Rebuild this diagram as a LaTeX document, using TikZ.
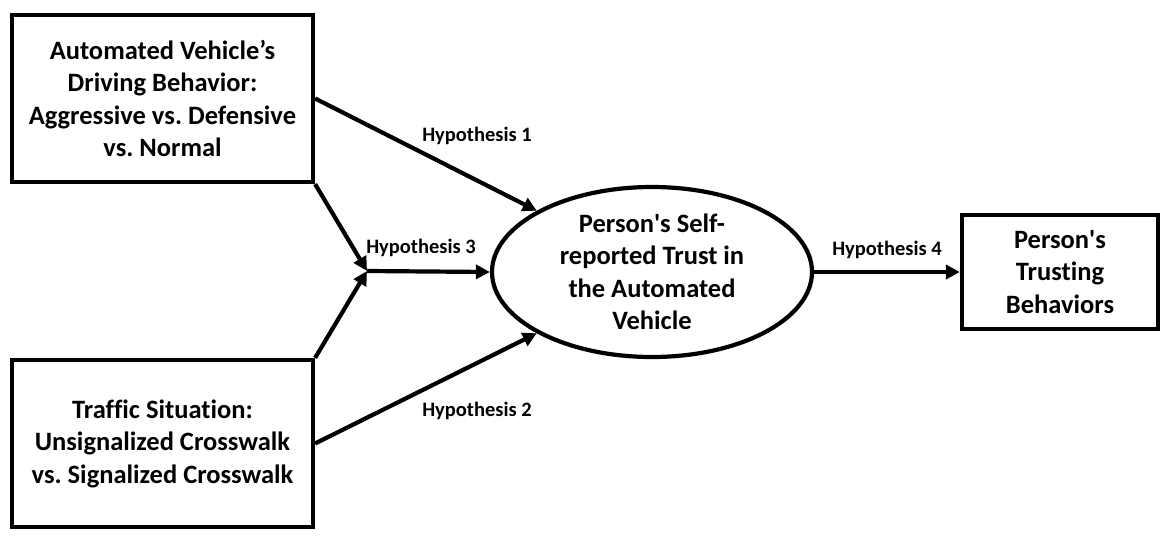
\documentclass[tikz,border=0pt]{standalone}
\usepackage{fontspec}
\setmainfont{Carlito}[Ligatures={NoCommon}]
\usetikzlibrary{arrows.meta,shapes.geometric}
\frenchspacing
\tikzset{
  box/.style={draw, line width=4.2pt, rectangle, inner sep=0pt, align=center,
    font=\fontsize{26.5}{32.5}\selectfont\bfseries},
  oval/.style={draw, line width=4.2pt, ellipse, inner sep=0pt, align=center,
    font=\fontsize{26.5}{32.5}\selectfont\bfseries},
  conn/.style={line width=4.2pt, -{Triangle[length=14pt,width=14pt]}},
  lbl/.style={font=\fontsize{20.5}{24}\selectfont\bfseries, inner sep=0pt}
}
\begin{document}
\begin{tikzpicture}[x=1pt,y=-1pt]
\useasboundingbox (0,0) rectangle (1173,544);
\node[box, minimum width=301pt, minimum height=167pt] (av) at (162.5,98.5)
  {Automated Vehicle’s\\Driving Behavior:\\Aggressive vs. Defensive\\vs. Normal};
\node[box, minimum width=301pt, minimum height=167pt] (ts) at (162.5,443.5)
  {Traffic Situation:\\Unsignalized Crosswalk\\vs. Signalized Crosswalk};
\node[oval, minimum width=320pt, minimum height=170pt] (tr) at (652,272)
  {Person\textquotesingle s Self-\\reported Trust in\\the Automated\\Vehicle};
\node[box, minimum width=196pt, minimum height=114pt] (tb) at (1060,272)
  {Person\textquotesingle s\\Trusting\\Behaviors};
\coordinate (j) at (367,271);
\draw[conn] (av.east) -- (tr.152);
\draw[conn] (ts.east) -- (tr.208);
\draw[conn] (av.south east) -- (j);
\draw[conn] (ts.north east) -- (j);
\draw[conn] (j) -- (tr.west);
\draw[conn] (tr.east) -- (tb.west);
\node[lbl] (h1) at (477,136) {Hypothesis 1};
\node[lbl] (h2) at (477,411) {Hypothesis 2};
\node[lbl] (h3) at (421,248) {Hypothesis 3};
\node[lbl] (h4) at (887,250) {Hypothesis 4};
\end{tikzpicture}
\end{document}
